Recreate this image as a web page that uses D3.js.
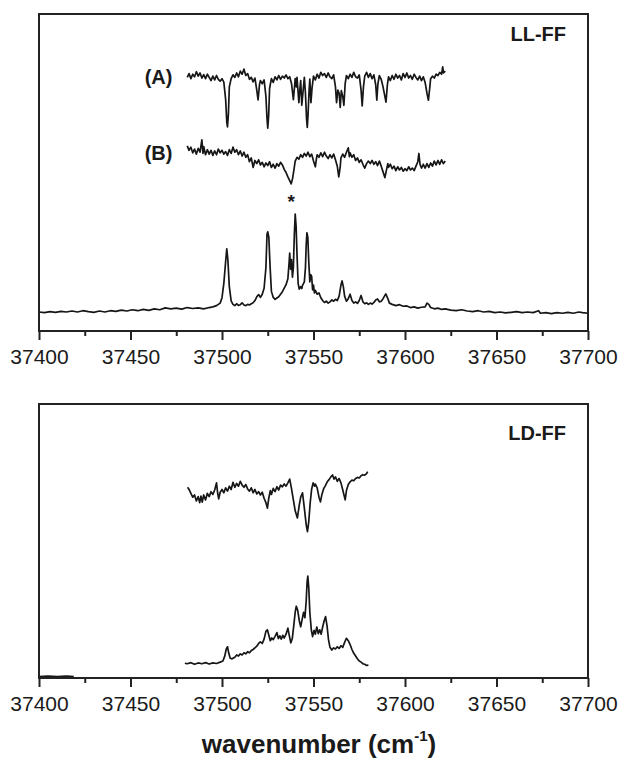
<!DOCTYPE html>
<html>
<head>
<meta charset="utf-8">
<script src="https://cdn.jsdelivr.net/npm/d3@7/dist/d3.min.js"></script>
<style>
  body { margin: 0; background: #fff; }
  text { font-family: "Liberation Sans", Arial, sans-serif; fill: #1a1a1a; }
</style>
</head>
<body>
<svg id="chart" width="618" height="760"></svg>
<script>
// Wavenumber axis (cm^-1)
const majorTicks = [37400, 37450, 37500, 37550, 37600, 37650, 37700];
const minorTicks = [37425, 37475, 37525, 37575, 37625, 37675];

// LL-FF panel: excitation spectrum (lowest trace)
const llSpectrum = [
  [37400,6.0],[37403,5.8],[37406,6.1],[37409,5.9],[37412,6.2],[37415,6.0],[37418,6.3],[37421,6.0],
  [37424,6.4],[37427,6.1],[37430,5.9],[37433,6.3],[37436,6.0],[37439,6.4],[37442,6.2],[37445,6.6],
  [37448,6.3],[37451,6.7],[37454,6.4],[37457,6.8],[37460,6.5],[37463,7.0],[37466,6.7],[37469,7.3],
  [37472,7.0],[37475,7.2],[37478,6.9],[37481,7.4],[37484,7.1],[37487,7.3],[37490,7.0],[37493,7.4],
  [37495,7.6],[37497,8.0],[37499,8.8],[37500,10.5],[37501,15.0],[37502,22.0],[37502.6,25.9],
  [37503.2,22.5],[37504,14.0],[37505,9.5],[37506,8.4],[37507,8.0],[37508,8.6],[37509,8.1],
  [37510,8.3],[37511,8.9],[37512,8.2],[37513,8.0],[37514,8.4],[37515,8.2],[37516,8.6],[37517,8.9],
  [37518,9.6],[37519,10.8],[37520,11.5],[37521,10.6],[37522,11.6],[37523,13.5],[37524,20.0],
  [37524.6,30.5],[37525,31.3],[37525.6,29.5],[37526.3,20.0],[37527,12.5],[37528,10.6],[37529,10.0],
  [37530,10.4],[37531,10.8],[37532,11.6],[37533,12.4],[37534,13.5],[37535,14.6],[37536,16.5],
  [37536.6,21.0],[37537,24.6],[37537.5,19.5],[37538,22.5],[37538.5,17.0],[37539,20.0],[37539.5,30.0],
  [37540,36.9],[37540.5,33.0],[37541,24.0],[37541.6,15.0],[37542.2,13.2],[37543,14.0],[37543.6,13.4],
  [37544,14.4],[37545,15.5],[37545.6,20.0],[37546,27.0],[37546.4,31.0],[37546.9,29.5],[37547.4,22.0],
  [37548,15.5],[37548.5,17.8],[37549,17.2],[37549.5,13.0],[37550,14.5],[37550.5,12.0],[37551,12.8],
  [37552,11.6],[37553,12.0],[37554,10.5],[37555,9.6],[37556,9.0],[37557,9.4],[37558,8.8],[37559,9.2],
  [37560,9.8],[37561,9.4],[37562,10.0],[37563,9.6],[37564,11.0],[37565,14.5],[37565.6,15.8],
  [37566.3,14.0],[37567,11.0],[37568,9.4],[37569,10.2],[37570,11.6],[37571,9.6],[37572,8.8],
  [37573,9.2],[37574,8.7],[37575,9.6],[37576,11.2],[37577,9.2],[37578,8.6],[37579,8.9],[37580,8.4],
  [37581,8.8],[37582,8.5],[37583,9.0],[37584,9.8],[37585,10.1],[37586,9.2],[37587,9.4],[37588,10.2],
  [37589.5,11.7],[37590.5,10.4],[37591.5,8.8],[37593,8.4],[37595,8.0],[37597,8.3],[37599,7.8],
  [37601,7.9],[37603,7.4],[37605,7.6],[37607,7.2],[37609,7.5],[37611,7.6],[37612,8.8],[37613,8.4],
  [37614,7.4],[37616,7.0],[37618,7.2],[37620,6.8],[37622,7.0],[37625,6.6],[37628,6.4],[37631,6.7],
  [37634,6.3],[37637,6.1],[37640,6.4],[37643,6.0],[37646,6.2],[37649,5.8],[37652,6.0],[37655,5.7],
  [37658,5.9],[37661,6.1],[37664,5.8],[37667,6.0],[37670,5.8],[37673,6.4],[37674,5.6],[37677,5.8],
  [37680,5.5],[37683,5.8],[37686,5.6],[37689,5.9],[37692,5.6],[37695,6.0],[37697,5.8],[37700,5.6]
];

// LL-FF panel: trace (A)
const llTraceA = [
  [37481,80.0],[37482,81.2],[37483,79.6],[37484,81.0],[37485,80.2],[37486,81.8],[37487,80.4],
  [37488,81.4],[37489,79.8],[37490,80.9],[37491,79.6],[37492,81.0],[37493,80.0],[37494,79.0],
  [37495,80.4],[37496,79.2],[37497,80.6],[37498,79.4],[37499,78.8],[37500,79.6],[37501,78.5],
  [37502,73.0],[37502.6,66.0],[37503,64.4],[37503.5,68.5],[37504,77.0],[37505,79.6],[37506,80.8],
  [37507,80.0],[37508,81.4],[37509,80.2],[37510,82.0],[37511,81.0],[37512,82.6],[37513,80.6],
  [37514,81.2],[37515,79.4],[37516,80.0],[37517,78.6],[37518,79.8],[37519,76.0],[37519.7,72.9],
  [37520.5,77.8],[37521,79.0],[37522,78.0],[37523,79.2],[37524,74.0],[37524.6,67.0],[37525,64.0],
  [37525.5,68.0],[37526,76.5],[37527,79.6],[37528,78.4],[37529,80.2],[37530,79.2],[37531,80.6],
  [37532,79.4],[37533,80.4],[37534,79.8],[37535,80.8],[37536,79.6],[37537,80.2],[37538,78.0],
  [37539,73.0],[37539.6,76.8],[37540,79.6],[37540.6,77.0],[37541,80.0],[37542,72.0],[37542.6,76.5],
  [37543,79.0],[37543.6,71.2],[37544.2,75.0],[37545,80.0],[37545.6,75.0],[37546.2,67.0],
  [37546.6,64.2],[37547,68.0],[37547.6,76.0],[37548,79.5],[37548.6,72.0],[37549.2,76.6],[37550,80.4],
  [37551,79.2],[37552,81.0],[37553,79.8],[37554,81.6],[37555,80.6],[37556,81.2],[37557,80.0],
  [37558,81.4],[37559,80.2],[37560,79.6],[37561,80.8],[37562,77.0],[37562.6,72.0],[37563.3,76.0],
  [37564,75.0],[37564.6,70.5],[37565.2,75.8],[37566,74.0],[37566.6,71.2],[37567.3,78.0],[37568,80.6],
  [37569,79.6],[37570,81.0],[37571,80.0],[37572,81.6],[37573,80.2],[37574,79.8],[37575,80.8],
  [37576,76.0],[37576.6,71.0],[37577.3,77.0],[37578,80.4],[37579,81.6],[37580,80.0],[37581,81.2],
  [37582,79.6],[37583,80.8],[37584,77.6],[37584.6,72.8],[37585.2,78.0],[37586,80.6],[37587,79.4],
  [37588,77.0],[37589,74.0],[37589.6,72.2],[37590.4,77.8],[37591,80.2],[37592,79.0],[37593,80.6],
  [37594,79.4],[37595,81.0],[37596,79.8],[37597,80.6],[37598,79.2],[37599,81.2],[37600,80.0],
  [37601,81.4],[37602,79.8],[37603,80.6],[37604,79.4],[37605,81.0],[37606,80.0],[37607,79.2],
  [37608,80.4],[37609,79.0],[37610,80.2],[37611,78.4],[37612,75.0],[37612.8,72.8],[37613.5,76.6],
  [37614,79.6],[37615,80.4],[37616,79.8],[37617,81.0],[37618,80.6],[37619,81.6],[37620,81.0],
  [37620.6,83.3],[37621,81.4],[37622,82.0]
];

// LL-FF panel: trace (B)
const llTraceB = [
  [37481,58.4],[37482,57.0],[37483,58.0],[37484,56.2],[37485,57.4],[37486,55.8],[37487,57.6],
  [37488,56.4],[37489,60.3],[37489.6,56.0],[37490,58.2],[37491,55.6],[37492,57.2],[37493,55.8],
  [37494,57.0],[37495,55.4],[37496,56.8],[37497,55.6],[37498,57.4],[37499,56.2],[37500,57.0],
  [37501,55.8],[37502,56.6],[37503,55.4],[37504,57.2],[37505,56.0],[37506,58.0],[37507,56.4],
  [37508,57.2],[37509,55.6],[37510,56.8],[37511,55.2],[37512,56.4],[37513,54.8],[37514,55.6],
  [37515,53.4],[37516,54.6],[37517,51.6],[37518,53.8],[37519,52.8],[37520,54.0],[37521,52.4],
  [37522,53.2],[37523,51.8],[37524,53.0],[37525,52.2],[37526,53.4],[37527,51.6],[37528,52.6],
  [37529,51.4],[37530,52.8],[37531,52.0],[37532,53.2],[37533,52.4],[37534,51.0],[37535,50.0],
  [37536,48.6],[37537,47.4],[37537.8,46.4],[37538.6,48.2],[37539.4,51.2],[37540,53.6],[37541,54.8],
  [37542,54.2],[37543,55.6],[37544,54.8],[37545,56.0],[37546,55.2],[37547,56.4],[37548,55.0],
  [37549,55.8],[37550,53.6],[37551,51.8],[37551.6,54.4],[37552,55.6],[37553,54.8],[37554,56.2],
  [37555,55.0],[37556,56.4],[37557,55.2],[37558,54.4],[37559,55.6],[37560,54.6],[37561,55.8],
  [37562,54.0],[37563,52.0],[37563.8,48.6],[37564.6,51.8],[37565,54.6],[37566,55.8],[37567,54.8],
  [37568,56.4],[37569,57.8],[37569.6,55.0],[37570,56.2],[37571,54.8],[37572,55.6],[37573,53.8],
  [37574,54.6],[37575,53.2],[37576,54.0],[37577,52.6],[37578,51.4],[37579,52.8],[37580,53.6],
  [37581,52.8],[37582,53.8],[37583,52.6],[37584,53.4],[37585,52.2],[37586,53.6],[37587,52.0],
  [37588,50.2],[37589,48.4],[37589.8,50.6],[37590.6,52.8],[37591,51.6],[37592,52.6],[37593,51.2],
  [37594,52.0],[37595,50.6],[37596,51.8],[37597,50.8],[37598,51.6],[37599,50.4],[37600,51.2],
  [37601,50.6],[37602,51.8],[37603,50.8],[37604,51.4],[37605,50.6],[37606,52.0],[37607,53.4],
  [37607.6,56.0],[37608.2,52.6],[37609,51.4],[37610,52.6],[37611,51.4],[37612,52.8],[37613,51.6],
  [37614,53.0],[37615,52.0],[37616,53.6],[37617,52.4],[37618,53.8],[37619,52.6],[37620,54.0],
  [37621,52.8],[37622,53.6]
];

// LD-FF panel: upper (dip) trace
const ldUpper = [
  [37481.2,69.6],[37482,68.8],[37483,67.4],[37484,66.0],[37485,66.8],[37486,64.6],[37487,66.2],
  [37487.8,64.0],[37488.5,66.4],[37489.2,64.2],[37490,66.8],[37491,65.0],[37492,67.4],[37493,66.2],
  [37494,68.0],[37495,67.0],[37496,68.6],[37497,71.2],[37497.6,67.6],[37498.2,65.4],[37499,67.8],
  [37500,68.8],[37501,67.6],[37502,69.4],[37503,68.2],[37504,70.0],[37505,68.8],[37506,71.4],
  [37507,69.6],[37508,71.0],[37509,70.0],[37510,71.8],[37511,70.4],[37512,69.6],[37513,70.6],
  [37514,69.0],[37515,68.2],[37516,69.4],[37517,67.6],[37518,68.8],[37519,67.2],[37520,68.0],
  [37521,66.8],[37522,67.8],[37523,65.6],[37524,64.0],[37524.8,62.0],[37525.6,65.8],[37526.4,68.4],
  [37527,67.0],[37528,69.2],[37529,68.0],[37530,69.8],[37531,68.6],[37532,70.4],[37533,69.8],
  [37534,70.8],[37535,70.0],[37536,71.2],[37537,72.6],[37538,69.0],[37539,65.0],[37540,61.0],
  [37541.2,58.4],[37542.2,63.0],[37543,66.0],[37544,67.6],[37545,62.0],[37546,56.0],[37546.7,53.4],
  [37547.4,57.0],[37548.2,64.0],[37549,69.0],[37549.8,71.2],[37550.6,70.0],[37551,70.8],[37552,69.4],
  [37553,66.0],[37553.8,64.3],[37554.6,67.0],[37555.5,69.0],[37556.5,70.2],[37557.5,71.6],
  [37558.5,72.4],[37559.5,73.4],[37560.4,74.1],[37561.2,72.6],[37562,73.4],[37563,71.8],[37564,72.8],
  [37565,71.2],[37566,68.6],[37567.3,65.0],[37568,68.4],[37569,70.6],[37570,71.6],[37571,72.2],
  [37572,72.0],[37573,72.8],[37574,73.2],[37575,73.0],[37576,73.8],[37577,74.2],[37578,74.0],
  [37579,74.6],[37579.6,75.3]
];

// LD-FF panel: lower (excitation) trace
const ldLower = [
  [37479.7,5.4],[37481,5.2],[37483,5.6],[37485,5.0],[37487,5.5],[37489,5.2],[37491,5.6],[37493,5.1],
  [37495,5.5],[37497,5.3],[37499,5.8],[37500.5,6.2],[37501.5,8.0],[37502.3,10.5],[37503,11.4],
  [37503.7,9.0],[37504.5,7.2],[37505.5,7.0],[37507,7.6],[37508,8.4],[37509,8.0],[37510,8.8],
  [37511,8.4],[37512,9.2],[37513,8.8],[37514,9.6],[37515,9.2],[37516,10.0],[37517,10.4],[37518,11.0],
  [37519,11.6],[37520,12.6],[37521,13.2],[37522,12.6],[37523,14.2],[37524,17.0],[37524.8,17.6],
  [37525.6,15.6],[37526.4,13.6],[37527.2,14.6],[37528,14.0],[37529,15.2],[37530,16.6],[37530.8,14.4],
  [37531.6,15.4],[37532.4,14.2],[37533.2,15.6],[37534,14.6],[37535,16.0],[37536,18.2],[37536.8,15.4],
  [37537.6,12.8],[37538.4,14.4],[37539.2,19.0],[37540,24.0],[37540.6,26.2],[37541.4,24.6],
  [37542.2,21.0],[37543,18.7],[37543.8,21.4],[37544.6,24.0],[37545.3,22.0],[37546,28.0],
  [37546.5,35.0],[37546.9,37.2],[37547.4,33.0],[37548,24.0],[37548.8,17.6],[37549.5,15.1],
  [37550.3,17.4],[37551,16.0],[37551.8,18.6],[37552.6,16.2],[37553.4,17.6],[37554.2,16.0],
  [37555,18.6],[37555.8,20.8],[37556.6,22.4],[37557.4,19.0],[37558.2,14.0],[37559,11.2],[37560,10.2],
  [37561,11.0],[37562,10.6],[37563,11.4],[37564,10.8],[37565,11.8],[37566,11.2],[37567,13.0],
  [37568,14.5],[37569,13.6],[37570,12.2],[37571,10.4],[37572,9.0],[37573,8.0],[37574,7.0],
  [37575,6.2],[37576,5.8],[37577,5.2],[37578,5.0],[37579,4.6],[37580,4.7]
];

// LD-FF panel: short baseline segment at the left edge
const ldBaseline = [[37400,0.5],[37405,0.7],[37410,0.5],[37415,0.7],[37419,0.5]];

const svg = d3.select("#chart");

const x = d3.scaleLinear().domain([37400, 37700]).range([39, 588]);

const panels = [
  { top: 14, bottom: 331, label: "LL-FF", labelY: 41,
    traces: [llSpectrum, llTraceA, llTraceB],
    notes: [
      { text: "(A)", wn: 37480, v: 80.0, dx: -13, dy: 7, size: 20, anchor: "end" },
      { text: "(B)", wn: 37480, v: 56.0, dx: -13, dy: 7, size: 20, anchor: "end" },
      { text: "*", wn: 37537.8, v: 46.4, dx: 0, dy: 24, size: 19, anchor: "middle" }
    ] },
  { top: 404, bottom: 678, label: "LD-FF", labelY: 440,
    traces: [ldUpper, ldLower, ldBaseline],
    notes: [] }
];

panels.forEach(p => {
  const y = d3.scaleLinear().domain([0, 100]).range([p.bottom, p.top]);
  const g = svg.append("g");

  const line = d3.line()
    .x(d => x(d[0]))
    .y(d => y(d[1]));

  p.traces.forEach(t => {
    g.append("path")
      .datum(t)
      .attr("d", line)
      .attr("fill", "none")
      .attr("stroke", "#161616")
      .attr("stroke-width", 1.7)
      .attr("stroke-linejoin", "round");
  });

  // frame
  g.append("rect")
    .attr("x", x.range()[0]).attr("y", p.top)
    .attr("width", x.range()[1] - x.range()[0])
    .attr("height", p.bottom - p.top)
    .attr("fill", "none")
    .attr("stroke", "#222")
    .attr("stroke-width", 2);

  // major ticks with labels
  const axMajor = g.append("g")
    .attr("transform", `translate(0,${p.bottom})`)
    .call(d3.axisBottom(x).tickValues(majorTicks).tickSize(9).tickPadding(9)
      .tickFormat(d3.format("d")));
  // minor ticks
  const axMinor = g.append("g")
    .attr("transform", `translate(0,${p.bottom})`)
    .call(d3.axisBottom(x).tickValues(minorTicks).tickSize(5).tickFormat(""));
  [axMajor, axMinor].forEach(a => {
    a.select(".domain").remove();
    a.selectAll(".tick line").attr("stroke", "#222").attr("stroke-width", 2);
  });
  axMajor.selectAll(".tick text")
    .attr("font-family", "'Liberation Sans', Arial, sans-serif")
    .attr("font-size", 21)
    .attr("fill", "#1a1a1a");

  // panel title
  g.append("text")
    .attr("x", 566).attr("y", p.labelY)
    .attr("text-anchor", "end")
    .attr("font-size", 20).attr("font-weight", "bold")
    .text(p.label);

  p.notes.forEach(n => {
    g.append("text")
      .attr("x", x(n.wn) + n.dx).attr("y", y(n.v) + n.dy)
      .attr("text-anchor", n.anchor)
      .attr("font-size", n.size).attr("font-weight", "bold")
      .text(n.text);
  });
});

// x-axis title
const title = svg.append("text")
  .attr("x", 319).attr("y", 753)
  .attr("text-anchor", "middle")
  .attr("font-size", 26).attr("font-weight", "bold");
title.append("tspan").text("wavenumber (cm");
title.append("tspan").attr("font-size", 15).attr("dy", -12).text("-1");
title.append("tspan").attr("dy", 12).text(")");
</script>
</body>
</html>
